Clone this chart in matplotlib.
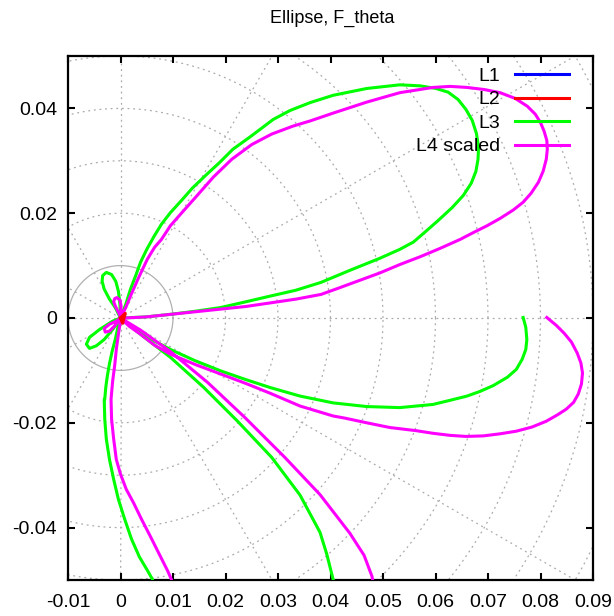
import matplotlib
matplotlib.use("Agg")
import matplotlib.pyplot as plt
import numpy as np

plt.rcParams['font.family'] = ['Liberation Sans', 'DejaVu Sans']

# curve points (x, y); nan breaks where a lobe leaves the frame
L1_x = [0.0, 0.0003, 0.0]
L1_y = [0.0, 0.0002, 0.0]

L2_x = [0.0, 0.0009, 0.0004, 0.0]
L2_y = [0.0, 0.0009, -0.0010, 0.0]

L3_x = [
    # lower right lobe
    0.0767, 0.0772, 0.0774, 0.0772, 0.0765, 0.0754, 0.0737, 0.0710, 0.0685, 0.0660,
    0.0628, 0.0595, 0.0532, 0.0469, 0.0405, 0.0342, 0.0286, 0.0237, 0.0191, 0.0141,
    0.0095, 0.0065, 0.0038, 0.0017, 0.0,
    # long lobe pointing down
    0.0017, 0.0038, 0.0095, 0.0158, 0.0223, 0.0288, 0.0342, 0.0380, 0.0393, 0.0405,
    0.0410, np.nan,
    0.0063, 0.0061, 0.0052, 0.0036, 0.0021, 0.0008, -0.0004, -0.0013, -0.0021, -0.0027,
    -0.0030, -0.0031, -0.0030, -0.0028, -0.0025, -0.0021, -0.0016, -0.0010, -0.0005, 0.0,
    # small lower left lobe
    -0.0015, -0.0031, -0.0046, -0.0059, -0.0065, -0.0059, -0.0040, -0.0015, 0.0,
    # small upper left lobe
    -0.0010, -0.0021, -0.0031, -0.0035, -0.0034, -0.0027, -0.0017, -0.0009, -0.0004,
    -0.0001, 0.0,
    # big upper lobe
    0.0010, 0.0019, 0.0029, 0.0038, 0.0050, 0.0064, 0.0078, 0.0095, 0.0115, 0.0137,
    0.0162, 0.0189, 0.0214, 0.0246, 0.0291, 0.0323, 0.0361, 0.0405, 0.0469, 0.0532,
    0.0571, 0.0601, 0.0624, 0.0643, 0.0658, 0.0670, 0.0678, 0.0682, 0.0681, 0.0677,
    0.0668, 0.0653, 0.0632, 0.0605, 0.0580, 0.0558, 0.0532, 0.0494, 0.0437, 0.0382,
    0.0334, 0.0286, 0.0239, 0.0191, 0.0143, 0.0095, 0.0048, 0.0]
L3_y = [
    0.0001, -0.0018, -0.0041, -0.0060, -0.0079, -0.0098, -0.0113, -0.0129, -0.0140, -0.0149,
    -0.0157, -0.0165, -0.0171, -0.0169, -0.0162, -0.0149, -0.0133, -0.0117, -0.0101, -0.0081,
    -0.0060, -0.0044, -0.0024, -0.0012, 0.0,
    -0.0014, -0.0031, -0.0075, -0.0132, -0.0197, -0.0266, -0.0338, -0.0409, -0.0451, -0.0499,
    -0.0520, np.nan,
    -0.0520, -0.0499, -0.0483, -0.0456, -0.0422, -0.0384, -0.0346, -0.0308, -0.0270, -0.0231,
    -0.0193, -0.0155, -0.0155, -0.0132, -0.0110, -0.0087, -0.0064, -0.0041, -0.0018, 0.0,
    -0.0022, -0.0041, -0.0053, -0.0058, -0.0050, -0.0037, -0.0022, -0.0006, 0.0,
    0.0020, 0.0036, 0.0055, 0.0070, 0.0081, 0.0087, 0.0083, 0.0070, 0.0051,
    0.0026, 0.0,
    0.0026, 0.0055, 0.0081, 0.0106, 0.0131, 0.0156, 0.0179, 0.0201, 0.0223, 0.0248,
    0.0272, 0.0297, 0.0322, 0.0345, 0.0379, 0.0396, 0.0411, 0.0425, 0.0438, 0.0445,
    0.0443, 0.0438, 0.0431, 0.0417, 0.0398, 0.0377, 0.0352, 0.0326, 0.0303, 0.0280,
    0.0257, 0.0234, 0.0211, 0.0186, 0.0164, 0.0145, 0.0131, 0.0114, 0.0091, 0.0068,
    0.0053, 0.0042, 0.0031, 0.0020, 0.0013, 0.0007, 0.0002, 0.0]

L4_x = [
    # lower right lobe
    0.0812, 0.0830, 0.0845, 0.0859, 0.0870, 0.0877, 0.0880, 0.0878, 0.0872, 0.0863,
    0.0849, 0.0832, 0.0811, 0.0784, 0.0754, 0.0723, 0.0691, 0.0658, 0.0628, 0.0595,
    0.0563, 0.0513, 0.0469, 0.0427, 0.0405, 0.0342, 0.0286, 0.0239, 0.0191, 0.0143,
    0.0095, 0.0065, 0.0038, 0.0017, 0.0,
    # long lobe pointing down
    0.0038, 0.0095, 0.0166, 0.0237, 0.0313, 0.0380, 0.0437, 0.0464, 0.0479, 0.0484,
    np.nan,
    0.0098, 0.0097, 0.0090, 0.0074, 0.0057, 0.0040, 0.0025, 0.0011, 0.0, -0.0008,
    -0.0013, -0.0017, -0.0018, -0.0015, -0.0011, -0.0008, -0.0004, -0.0001, 0.0,
    # small lower left lobe
    -0.0003, -0.0011, -0.0021, -0.0029, -0.0031, -0.0021, -0.0008, 0.0,
    # small upper lobe
    -0.0002, -0.0010, -0.0013, -0.0011, -0.0007, -0.0001, 0.0001, 0.0001, 0.0,
    # big upper lobe
    0.0010, 0.0019, 0.0034, 0.0051, 0.0065, 0.0078, 0.0095, 0.0116, 0.0140, 0.0177,
    0.0212, 0.0250, 0.0288, 0.0328, 0.0361, 0.0405, 0.0469, 0.0532, 0.0595, 0.0628,
    0.0660, 0.0693, 0.0723, 0.0752, 0.0775, 0.0790, 0.0800, 0.0807, 0.0812, 0.0813,
    0.0811, 0.0805, 0.0796, 0.0782, 0.0767, 0.0748, 0.0723, 0.0698, 0.0672, 0.0647,
    0.0609, 0.0571, 0.0532, 0.0494, 0.0456, 0.0418, 0.0382, 0.0334, 0.0286, 0.0239,
    0.0191, 0.0143, 0.0095, 0.0048, 0.0008]
L4_y = [
    0.0001, -0.0014, -0.0029, -0.0046, -0.0067, -0.0086, -0.0105, -0.0126, -0.0145, -0.0161,
    -0.0174, -0.0185, -0.0197, -0.0208, -0.0216, -0.0221, -0.0225, -0.0226, -0.0224, -0.0220,
    -0.0215, -0.0209, -0.0200, -0.0191, -0.0187, -0.0168, -0.0144, -0.0125, -0.0107, -0.0089,
    -0.0069, -0.0052, -0.0031, -0.0016, 0.0,
    -0.0023, -0.0064, -0.0123, -0.0190, -0.0266, -0.0337, -0.0411, -0.0453, -0.0493, -0.0520,
    np.nan,
    -0.0520, -0.0499, -0.0483, -0.0451, -0.0417, -0.0384, -0.0353, -0.0327, -0.0298, -0.0270,
    -0.0231, -0.0193, -0.0155, -0.0121, -0.0090, -0.0060, -0.0031, -0.0012, 0.0,
    -0.0004, -0.0015, -0.0025, -0.0027, -0.0020, -0.0012, -0.0006, 0.0,
    0.0007, 0.0023, 0.0031, 0.0037, 0.0039, 0.0034, 0.0023, 0.0010, 0.0,
    0.0020, 0.0042, 0.0076, 0.0112, 0.0135, 0.0150, 0.0176, 0.0200, 0.0227, 0.0269,
    0.0303, 0.0331, 0.0351, 0.0366, 0.0376, 0.0391, 0.0412, 0.0430, 0.0440, 0.0442,
    0.0440, 0.0436, 0.0430, 0.0419, 0.0404, 0.0389, 0.0373, 0.0356, 0.0339, 0.0322,
    0.0303, 0.0280, 0.0259, 0.0238, 0.0221, 0.0206, 0.0190, 0.0176, 0.0163, 0.0150,
    0.0133, 0.0117, 0.0102, 0.0086, 0.0072, 0.0058, 0.0045, 0.0036, 0.0029, 0.0022,
    0.0017, 0.0012, 0.0007, 0.0002, 0.0000]

labels = ["L1", "L2", "L3", "L4 scaled"]
colors = ["#0000ff", "#ff0000", "#00ff00", "#ff00ff"]

x_ticks = [-0.01, 0, 0.01, 0.02, 0.03, 0.04, 0.05, 0.06, 0.07, 0.08, 0.09]
x_ticklabels = ["-0.01", "0", "0.01", "0.02", "0.03", "0.04", "0.05", "0.06", "0.07", "0.08", "0.09"]
y_ticks = [-0.04, -0.02, 0, 0.02, 0.04]
y_ticklabels = ["-0.04", "-0.02", "0", "0.02", "0.04"]
grid_radii = np.arange(0.01, 0.13, 0.01)
grid_angles = np.arange(0, 360, 30)

fig = plt.figure(figsize=(6.14, 6.16), dpi=100)
ax = fig.add_axes([68 / 614, 36 / 616, 525 / 614, 524 / 616])

# polar grid: circles at every 0.01, spokes every 30 degrees
t = np.linspace(0, 2 * np.pi, 400)
for r in grid_radii:
    if abs(r - 0.01) < 1e-9:
        ax.plot(r * np.cos(t), r * np.sin(t), color="#b0b0b0", lw=0.9, zorder=1)
    else:
        ax.plot(r * np.cos(t), r * np.sin(t), color="#ababab", lw=0.9,
                linestyle=(0, (1.5, 3)), zorder=1)
for a in grid_angles:
    rad = np.deg2rad(a)
    ax.plot([0, 0.13 * np.cos(rad)], [0, 0.13 * np.sin(rad)], color="#ababab", lw=0.9,
            linestyle=(0, (1.5, 3)), zorder=1)

ax.plot(L1_x, L1_y, color=colors[0], lw=2.2, label=labels[0], zorder=3)
ax.plot(L3_x, L3_y, color=colors[2], lw=2.2, label=labels[2], zorder=3)
ax.plot(L4_x, L4_y, color=colors[3], lw=2.2, label=labels[3], zorder=4)
ax.plot(L2_x, L2_y, color=colors[1], lw=2.2, label=labels[1], zorder=5)

ax.set_xlim(-0.01, 0.09)
ax.set_ylim(-0.05, 0.05)
ax.set_xticks(x_ticks)
ax.set_xticklabels(x_ticklabels)
ax.set_yticks(y_ticks)
ax.set_yticklabels(y_ticklabels)
ax.tick_params(direction="in", top=True, right=True, length=5, width=1.5, labelsize=14)
ax.tick_params(axis="x", pad=10)
ax.tick_params(axis="y", pad=8)
for s in ax.spines.values():
    s.set_linewidth(1.6)

handles, labs = ax.get_legend_handles_labels()
order = [labs.index(l) for l in labels]
ax.legend([handles[i] for i in order], labels, loc="upper right", frameon=False,
          markerfirst=False, fontsize=14, handlelength=2.75, handletextpad=0.75,
          labelspacing=0.3, borderaxespad=0.6,
          bbox_to_anchor=(1 - 5 / 525, 1 + 8 / 524))

fig.text(332 / 614, 1 - 18 / 616, "Ellipse, F_theta", ha="center", va="center", fontsize=13)

fig.savefig("out.png", dpi=100)
